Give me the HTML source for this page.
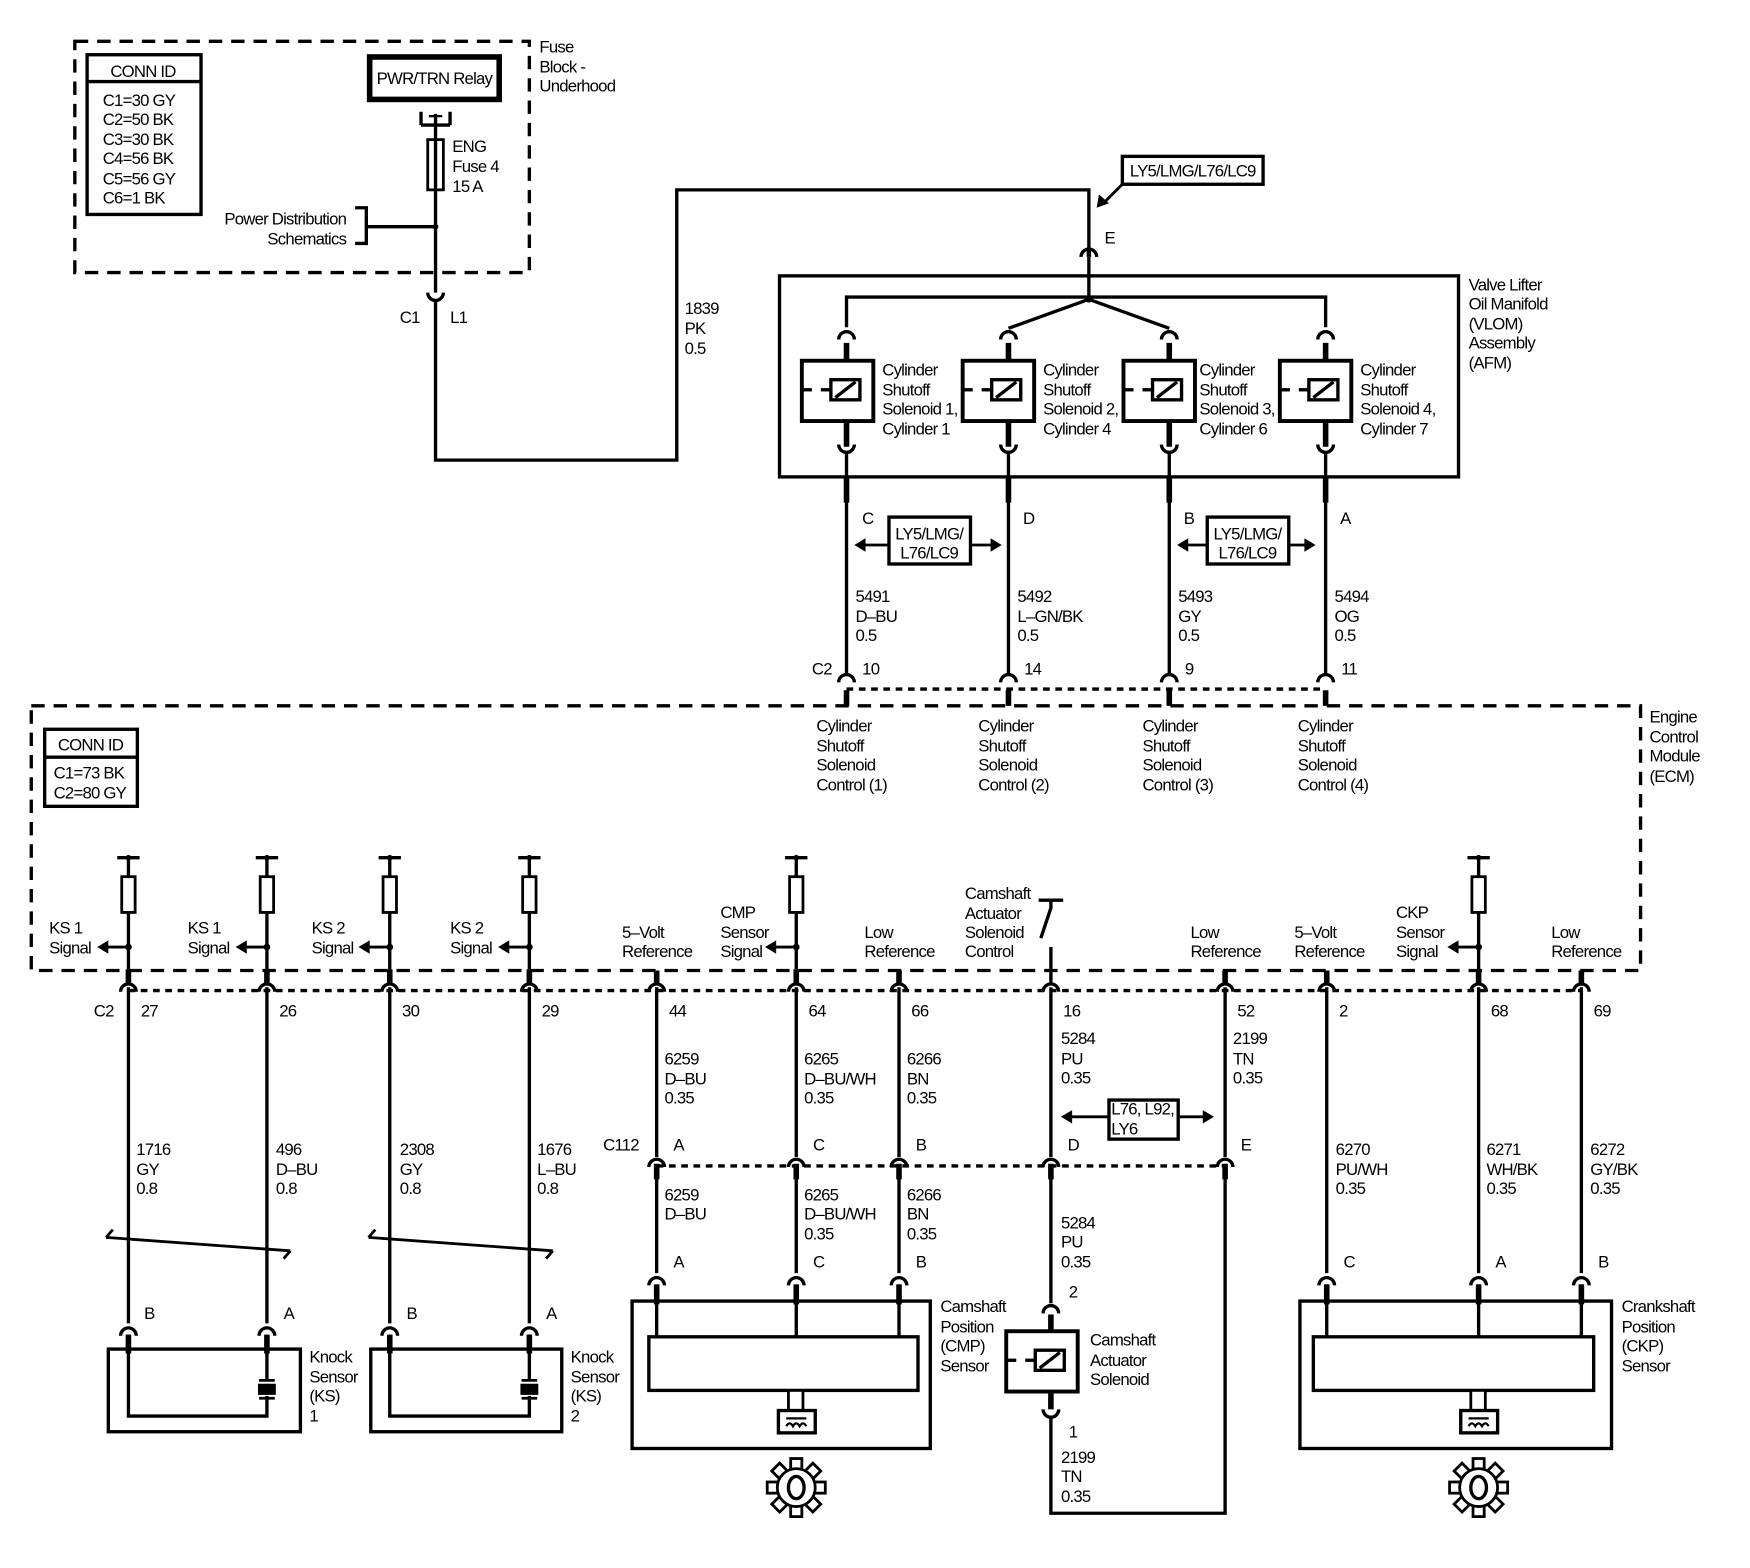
<!DOCTYPE html>
<html><head><meta charset="utf-8"><style>
html,body{margin:0;padding:0;background:#fff}
svg{display:block}
text{font-family:"Liberation Sans Narrow","Liberation Sans",sans-serif;font-size:15px;letter-spacing:-0.7px;fill:#000}
</style></head><body>
<svg width="1750" height="1568" viewBox="0 0 1567 1404" xmlns="http://www.w3.org/2000/svg">
<defs>
<g id="fm"><path d="M-7,6 A7,7 0 0 1 7,6" fill="none" stroke="#000" stroke-width="3"/></g>
<g id="ml"><path d="M-7,-5 A7,7 0 0 0 7,-5" fill="none" stroke="#000" stroke-width="3"/></g>
<g id="res"><line x1="-10" y1="0" x2="10" y2="0" stroke="#000" stroke-width="3"/><circle cx="0" cy="0" r="2.5"/><rect x="-6" y="17" width="12" height="32" fill="#fff" stroke="#000" stroke-width="2.5"/><line x1="0" y1="0" x2="0" y2="17" stroke="#000" stroke-width="3"/><line x1="0" y1="49" x2="0" y2="100" stroke="#000" stroke-width="3"/><circle cx="0" cy="80" r="3"/><line x1="0" y1="80" x2="-20" y2="80" stroke="#000" stroke-width="2.5"/><path d="M-28,80 L-18,74 L-18,86 Z"/></g>
<g id="sol"><rect x="-39" y="0" width="64" height="54" fill="#fff" stroke="#000" stroke-width="3.5"/><line x1="-39" y1="26" x2="-30" y2="26" stroke="#000" stroke-width="3"/><line x1="-22" y1="26" x2="-13" y2="26" stroke="#000" stroke-width="3"/><rect x="-13" y="17" width="26" height="18" fill="#fff" stroke="#000" stroke-width="3"/><line x1="-9" y1="33" x2="9" y2="19" stroke="#000" stroke-width="3"/></g>
<g id="gear" fill="#fff" stroke="#000" stroke-width="2.5">
<g id="t"><rect x="-5" y="-26" width="10" height="12"/></g>
<use href="#t" transform="rotate(45)"/><use href="#t" transform="rotate(90)"/><use href="#t" transform="rotate(135)"/><use href="#t" transform="rotate(180)"/><use href="#t" transform="rotate(225)"/><use href="#t" transform="rotate(270)"/><use href="#t" transform="rotate(315)"/>
<circle r="17" stroke-width="2.5"/><ellipse rx="7" ry="10" stroke-width="3"/></g>
<g id="ped"><rect x="-7" y="0" width="13" height="18" fill="#fff" stroke="#000" stroke-width="2.5"/><rect x="-16" y="18" width="33" height="20" fill="#fff" stroke="#000" stroke-width="3"/><line x1="-9" y1="25" x2="9" y2="25" stroke="#000" stroke-width="2"/><path d="M-9,32 q3,-5 6,0 q3,-5 6,0 q3,-5 6,0" fill="none" stroke="#000" stroke-width="2"/></g>
</defs>
<g stroke="#000" fill="none">
<rect x="67" y="37" width="407" height="207" stroke-width="3" stroke-dasharray="12,8"/>
<rect x="78" y="49" width="102" height="143" stroke-width="3"/>
<line x1="78" y1="73" x2="180" y2="73" stroke-width="3"/>
<rect x="331" y="51" width="116" height="38" stroke-width="5"/>
<path d="M377,112 V100 M403,112 V100 M377,112 H403 M390,102 V125" stroke-width="3"/>
<line x1="384" y1="104" x2="396" y2="104" stroke-width="2"/>
<rect x="383" y="125" width="14" height="45" stroke-width="2.5"/>
<line x1="390" y1="125" x2="390" y2="262" stroke-width="3"/>
<path d="M318,186 H328 V218 H318 M328,203 H390" stroke-width="3"/>
<path d="M383,262 A7,7 0 0 0 397,262" stroke-width="3"/>
<path d="M390,268 V412 H606 V170 H975 V222" stroke-width="3"/>
<rect x="1005" y="140" width="126" height="25" stroke-width="3"/>
<line x1="1005" y1="165" x2="988" y2="182" stroke-width="2.5"/>
<rect x="698" y="247" width="608" height="180" stroke-width="3"/>
<path d="M975,230 V268 M758,293 V266 H1187 V293 M975,268 L903,294 M975,268 L1047,294" stroke-width="3"/>
</g>
<circle cx="390" cy="203" r="2.5"/><circle cx="975" cy="268" r="3"/>
<path d="M982,186 L984,174 L993,182 Z"/>
<use href="#fm" x="975" y="224"/>
<line x1="975" y1="224" x2="975" y2="230" stroke="#000" stroke-width="4"/>
<g>
<use href="#fm" x="758" y="298"/><use href="#fm" x="903" y="298"/><use href="#fm" x="1047" y="298"/><use href="#fm" x="1187" y="298"/>
<g stroke="#000" stroke-width="5">
<path d="M758,307 V323 M903,307 V323 M1047,307 V323 M1187,307 V323 M758,376 V400 M903,376 V400 M1047,376 V400 M1187,376 V400"/>
</g>
<use href="#sol" x="757" y="323"/><use href="#sol" x="901" y="323"/><use href="#sol" x="1045" y="323"/><use href="#sol" x="1185" y="323"/>
<use href="#ml" x="758" y="403"/><use href="#ml" x="903" y="403"/><use href="#ml" x="1047" y="403"/><use href="#ml" x="1187" y="403"/>
</g>
<g stroke="#000" stroke-width="3" fill="none">
<path d="M758,405 V605 M903,405 V605 M1047,405 V605 M1187,405 V605"/>
<path d="M758,427 V450 M903,427 V450 M1047,427 V450 M1187,427 V450" stroke-width="5"/>
<rect x="796" y="463" width="73" height="42"/>
<rect x="1081" y="463" width="73" height="42"/>
<path d="M772,488 H796 M869,488 H890 M1061,488 H1081 M1154,488 H1171" stroke-width="2.5"/>
<line x1="758" y1="617" x2="1187" y2="617" stroke-dasharray="6,5"/>
<path d="M758,618 V632 M903,618 V632 M1047,618 V632 M1187,618 V632" stroke-width="5"/>
<rect x="28" y="632" width="1441" height="237" stroke-width="3" stroke-dasharray="12,8"/>
<rect x="40" y="653" width="83" height="69"/>
<line x1="40" y1="678" x2="123" y2="678"/>
</g>
<path d="M765,488 L775,482 L775,494 Z M897,488 L887,482 L887,494 Z M1054,488 L1064,482 L1064,494 Z M1178,488 L1168,482 L1168,494 Z"/>
<use href="#fm" x="758" y="605"/><use href="#fm" x="903" y="605"/><use href="#fm" x="1047" y="605"/><use href="#fm" x="1187" y="605"/>
<use href="#res" x="115" y="768"/><use href="#res" x="239" y="768"/><use href="#res" x="349" y="768"/><use href="#res" x="474" y="768"/><use href="#res" x="713" y="768"/><use href="#res" x="1324" y="768"/>
<g stroke="#000" stroke-width="3" fill="none">
<path d="M930,806 H952 M941,806 V813 L932,840 M941,848 V882"/>
<path d="M588,869 V882 M805,869 V882 M1097,869 V882 M1188,869 V882 M1416,869 V882 M115,868 V882 M239,868 V882 M349,868 V882 M474,868 V882 M713,868 V882 M1324,868 V882" stroke-width="5"/>
<line x1="115" y1="887" x2="1417" y2="887" stroke-dasharray="6,5"/>
<path d="M115,884 V1185 M239,884 V1185 M349,884 V1185 M474,884 V1185 M588,884 V1036 M713,884 V1036 M805,884 V1036 M941,884 V1036 M1097,884 V1036 M1188,884 V1140 M1324,884 V1140 M1416,884 V1140"/>
<line x1="588" y1="1044" x2="1097" y2="1044" stroke-dasharray="6,5"/>
<path d="M588,1048 V1140 M713,1048 V1140 M805,1048 V1140 M941,1048 V1167 M1097,1048 V1355 H941 V1268" />
<path d="M588,1042 V1056 M713,1042 V1056 M805,1042 V1056 M941,1042 V1056 M1097,1042 V1056" stroke-width="5"/>
<rect x="993" y="985" width="62" height="35"/>
<path d="M957,1000 H993 M1055,1000 H1080" stroke-width="2.5"/>
<path d="M95,1108 L260,1120 M95,1108 L101,1101 M260,1120 L254,1127 M330,1108 L495,1120 M330,1108 L336,1101 M495,1120 L489,1127" stroke-width="2.5"/>
<rect x="97" y="1208" width="172" height="74"/>
<rect x="332" y="1208" width="171" height="74"/>
<path d="M115,1195 V1268 H239 V1250 M239,1195 V1236 M349,1195 V1268 H474 V1250 M474,1195 V1236"/>
<path d="M115,1195 V1212 M239,1195 V1212 M349,1195 V1212 M474,1195 V1212" stroke-width="5"/>
<path d="M232,1236 H246 M232,1252 H246 M467,1236 H481 M467,1252 H481" stroke-width="2.5"/>
<rect x="566" y="1165" width="267" height="132"/>
<rect x="581" y="1197" width="241" height="48"/>
<path d="M588,1150 V1197 M713,1150 V1197 M805,1150 V1197 M1188,1150 V1197 M1324,1150 V1197 M1416,1150 V1197"/>
<path d="M588,1150 V1168 M713,1150 V1168 M805,1150 V1168 M1188,1150 V1168 M1324,1150 V1168 M1416,1150 V1168" stroke-width="5"/>
<rect x="1164" y="1165" width="279" height="132"/>
<rect x="1176" y="1197" width="251" height="48"/>
<path d="M941,1177 V1192 M941,1245 V1262" stroke-width="5"/>
</g>
<rect x="231" y="1239" width="16" height="10"/><rect x="466" y="1239" width="16" height="10"/>
<path d="M950,1000 L960,994 L960,1006 Z M1087,1000 L1077,994 L1077,1006 Z"/>
<g>
<use href="#fm" x="115" y="882"/><use href="#fm" x="239" y="882"/><use href="#fm" x="349" y="882"/><use href="#fm" x="474" y="882"/><use href="#fm" x="588" y="882"/><use href="#fm" x="713" y="882"/><use href="#fm" x="805" y="882"/><use href="#fm" x="941" y="882"/><use href="#fm" x="1097" y="882"/><use href="#fm" x="1188" y="882"/><use href="#fm" x="1324" y="882"/><use href="#fm" x="1416" y="882"/>
<use href="#fm" x="588" y="1039"/><use href="#fm" x="713" y="1039"/><use href="#fm" x="805" y="1039"/><use href="#fm" x="941" y="1039"/><use href="#fm" x="1097" y="1039"/>
<use href="#fm" x="115" y="1190"/><use href="#fm" x="239" y="1190"/><use href="#fm" x="349" y="1190"/><use href="#fm" x="474" y="1190"/>
<use href="#fm" x="588" y="1145"/><use href="#fm" x="713" y="1145"/><use href="#fm" x="805" y="1145"/><use href="#fm" x="1188" y="1145"/><use href="#fm" x="1324" y="1145"/><use href="#fm" x="1416" y="1145"/>
<use href="#fm" x="941" y="1170"/><use href="#ml" x="941" y="1267"/>
</g>
<use href="#sol" x="940" y="1192"/>
<use href="#ped" x="713" y="1245"/><use href="#ped" x="1324" y="1245"/>
<use href="#gear" x="713" y="1332"/><use href="#gear" x="1324" y="1332"/>

<text x="128" y="69" text-anchor="middle">CONN ID</text>
<text x="92" y="95">C1=30 GY</text><text x="92" y="112">C2=50 BK</text><text x="92" y="130">C3=30 BK</text><text x="92" y="147">C4=56 BK</text><text x="92" y="165">C5=56 GY</text><text x="92" y="182">C6=1 BK</text>
<text x="389" y="75" text-anchor="middle">PWR/TRN Relay</text>
<text x="405" y="136">ENG</text><text x="405" y="154">Fuse 4</text><text x="405" y="172">15 A</text>
<text x="310" y="201" text-anchor="end">Power Distribution</text><text x="310" y="219" text-anchor="end">Schematics</text>
<text x="483" y="47">Fuse</text><text x="483" y="65">Block -</text><text x="483" y="82">Underhood</text>
<text x="358" y="289">C1</text><text x="403" y="289">L1</text>
<text x="613" y="281">1839</text><text x="613" y="299">PK</text><text x="613" y="317">0.5</text>
<text x="1068" y="158" text-anchor="middle">LY5/LMG/L76/LC9</text>
<text x="989" y="218">E</text>
<text x="1315" y="260">Valve Lifter</text><text x="1315" y="277">Oil Manifold</text><text x="1315" y="295">(VLOM)</text><text x="1315" y="312">Assembly</text><text x="1315" y="330">(AFM)</text>
<g>
<text x="790" y="336">Cylinder</text><text x="790" y="354">Shutoff</text><text x="790" y="371">Solenoid 1,</text><text x="790" y="389">Cylinder 1</text>
<text x="934" y="336">Cylinder</text><text x="934" y="354">Shutoff</text><text x="934" y="371">Solenoid 2,</text><text x="934" y="389">Cylinder 4</text>
<text x="1074" y="336">Cylinder</text><text x="1074" y="354">Shutoff</text><text x="1074" y="371">Solenoid 3,</text><text x="1074" y="389">Cylinder 6</text>
<text x="1218" y="336">Cylinder</text><text x="1218" y="354">Shutoff</text><text x="1218" y="371">Solenoid 4,</text><text x="1218" y="389">Cylinder 7</text>
</g>
<text x="772" y="469">C</text><text x="916" y="469">D</text><text x="1060" y="469">B</text><text x="1200" y="469">A</text>
<text x="832" y="483" text-anchor="middle">LY5/LMG/</text><text x="832" y="500" text-anchor="middle">L76/LC9</text>
<text x="1117" y="483" text-anchor="middle">LY5/LMG/</text><text x="1117" y="500" text-anchor="middle">L76/LC9</text>
<text x="766" y="539">5491</text><text x="766" y="557">D–BU</text><text x="766" y="574">0.5</text>
<text x="911" y="539">5492</text><text x="911" y="557">L–GN/BK</text><text x="911" y="574">0.5</text>
<text x="1055" y="539">5493</text><text x="1055" y="557">GY</text><text x="1055" y="574">0.5</text>
<text x="1195" y="539">5494</text><text x="1195" y="557">OG</text><text x="1195" y="574">0.5</text>
<text x="727" y="604">C2</text><text x="772" y="604">10</text><text x="917" y="604">14</text><text x="1061" y="604">9</text><text x="1201" y="604">11</text>
<text x="731" y="655">Cylinder</text><text x="731" y="673">Shutoff</text><text x="731" y="690">Solenoid</text><text x="731" y="708">Control (1)</text>
<text x="876" y="655">Cylinder</text><text x="876" y="673">Shutoff</text><text x="876" y="690">Solenoid</text><text x="876" y="708">Control (2)</text>
<text x="1023" y="655">Cylinder</text><text x="1023" y="673">Shutoff</text><text x="1023" y="690">Solenoid</text><text x="1023" y="708">Control (3)</text>
<text x="1162" y="655">Cylinder</text><text x="1162" y="673">Shutoff</text><text x="1162" y="690">Solenoid</text><text x="1162" y="708">Control (4)</text>
<text x="1477" y="647">Engine</text><text x="1477" y="665">Control</text><text x="1477" y="682">Module</text><text x="1477" y="700">(ECM)</text>
<text x="81" y="672" text-anchor="middle">CONN ID</text><text x="48" y="697">C1=73 BK</text><text x="48" y="715">C2=80 GY</text>
<text x="44" y="836">KS 1</text><text x="44" y="854">Signal</text>
<text x="168" y="836">KS 1</text><text x="168" y="854">Signal</text>
<text x="279" y="836">KS 2</text><text x="279" y="854">Signal</text>
<text x="403" y="836">KS 2</text><text x="403" y="854">Signal</text>
<text x="557" y="840">5–Volt</text><text x="557" y="857">Reference</text>
<text x="645" y="822">CMP</text><text x="645" y="840">Sensor</text><text x="645" y="857">Signal</text>
<text x="774" y="840">Low</text><text x="774" y="857">Reference</text>
<text x="864" y="805">Camshaft</text><text x="864" y="823">Actuator</text><text x="864" y="840">Solenoid</text><text x="864" y="857">Control</text>
<text x="1066" y="840">Low</text><text x="1066" y="857">Reference</text>
<text x="1159" y="840">5–Volt</text><text x="1159" y="857">Reference</text>
<text x="1250" y="822">CKP</text><text x="1250" y="840">Sensor</text><text x="1250" y="857">Signal</text>
<text x="1389" y="840">Low</text><text x="1389" y="857">Reference</text>
<text x="84" y="910">C2</text><text x="126" y="910">27</text><text x="250" y="910">26</text><text x="360" y="910">30</text><text x="485" y="910">29</text><text x="599" y="910">44</text><text x="724" y="910">64</text><text x="816" y="910">66</text><text x="952" y="910">16</text><text x="1108" y="910">52</text><text x="1199" y="910">2</text><text x="1335" y="910">68</text><text x="1427" y="910">69</text>
<text x="595" y="953">6259</text><text x="595" y="971">D–BU</text><text x="595" y="988">0.35</text>
<text x="720" y="953">6265</text><text x="720" y="971">D–BU/WH</text><text x="720" y="988">0.35</text>
<text x="812" y="953">6266</text><text x="812" y="971">BN</text><text x="812" y="988">0.35</text>
<text x="950" y="935">5284</text><text x="950" y="953">PU</text><text x="950" y="970">0.35</text>
<text x="1104" y="935">2199</text><text x="1104" y="953">TN</text><text x="1104" y="970">0.35</text>
<text x="995" y="998">L76, L92,</text><text x="995" y="1016">LY6</text>
<text x="122" y="1034">1716</text><text x="122" y="1052">GY</text><text x="122" y="1069">0.8</text>
<text x="247" y="1034">496</text><text x="247" y="1052">D–BU</text><text x="247" y="1069">0.8</text>
<text x="358" y="1034">2308</text><text x="358" y="1052">GY</text><text x="358" y="1069">0.8</text>
<text x="481" y="1034">1676</text><text x="481" y="1052">L–BU</text><text x="481" y="1069">0.8</text>
<text x="1196" y="1034">6270</text><text x="1196" y="1052">PU/WH</text><text x="1196" y="1069">0.35</text>
<text x="1331" y="1034">6271</text><text x="1331" y="1052">WH/BK</text><text x="1331" y="1069">0.35</text>
<text x="1424" y="1034">6272</text><text x="1424" y="1052">GY/BK</text><text x="1424" y="1069">0.35</text>
<text x="540" y="1030">C112</text><text x="603" y="1030">A</text><text x="728" y="1030">C</text><text x="820" y="1030">B</text><text x="956" y="1030">D</text><text x="1111" y="1030">E</text>
<text x="595" y="1075">6259</text><text x="595" y="1092">D–BU</text>
<text x="720" y="1075">6265</text><text x="720" y="1092">D–BU/WH</text><text x="720" y="1110">0.35</text>
<text x="812" y="1075">6266</text><text x="812" y="1092">BN</text><text x="812" y="1110">0.35</text>
<text x="950" y="1100">5284</text><text x="950" y="1117">PU</text><text x="950" y="1135">0.35</text>
<text x="129" y="1181">B</text><text x="254" y="1181">A</text><text x="364" y="1181">B</text><text x="489" y="1181">A</text>
<text x="603" y="1135">A</text><text x="728" y="1135">C</text><text x="820" y="1135">B</text>
<text x="1203" y="1135">C</text><text x="1339" y="1135">A</text><text x="1431" y="1135">B</text>
<text x="957" y="1162">2</text><text x="957" y="1287">1</text>
<text x="277" y="1220">Knock</text><text x="277" y="1238">Sensor</text><text x="277" y="1255">(KS)</text><text x="277" y="1273">1</text>
<text x="511" y="1220">Knock</text><text x="511" y="1238">Sensor</text><text x="511" y="1255">(KS)</text><text x="511" y="1273">2</text>
<text x="842" y="1175">Camshaft</text><text x="842" y="1193">Position</text><text x="842" y="1210">(CMP)</text><text x="842" y="1228">Sensor</text>
<text x="976" y="1205">Camshaft</text><text x="976" y="1223">Actuator</text><text x="976" y="1240">Solenoid</text>
<text x="950" y="1310">2199</text><text x="950" y="1327">TN</text><text x="950" y="1345">0.35</text>
<text x="1452" y="1175">Crankshaft</text><text x="1452" y="1193">Position</text><text x="1452" y="1210">(CKP)</text><text x="1452" y="1228">Sensor</text>
</svg>
</body></html>
